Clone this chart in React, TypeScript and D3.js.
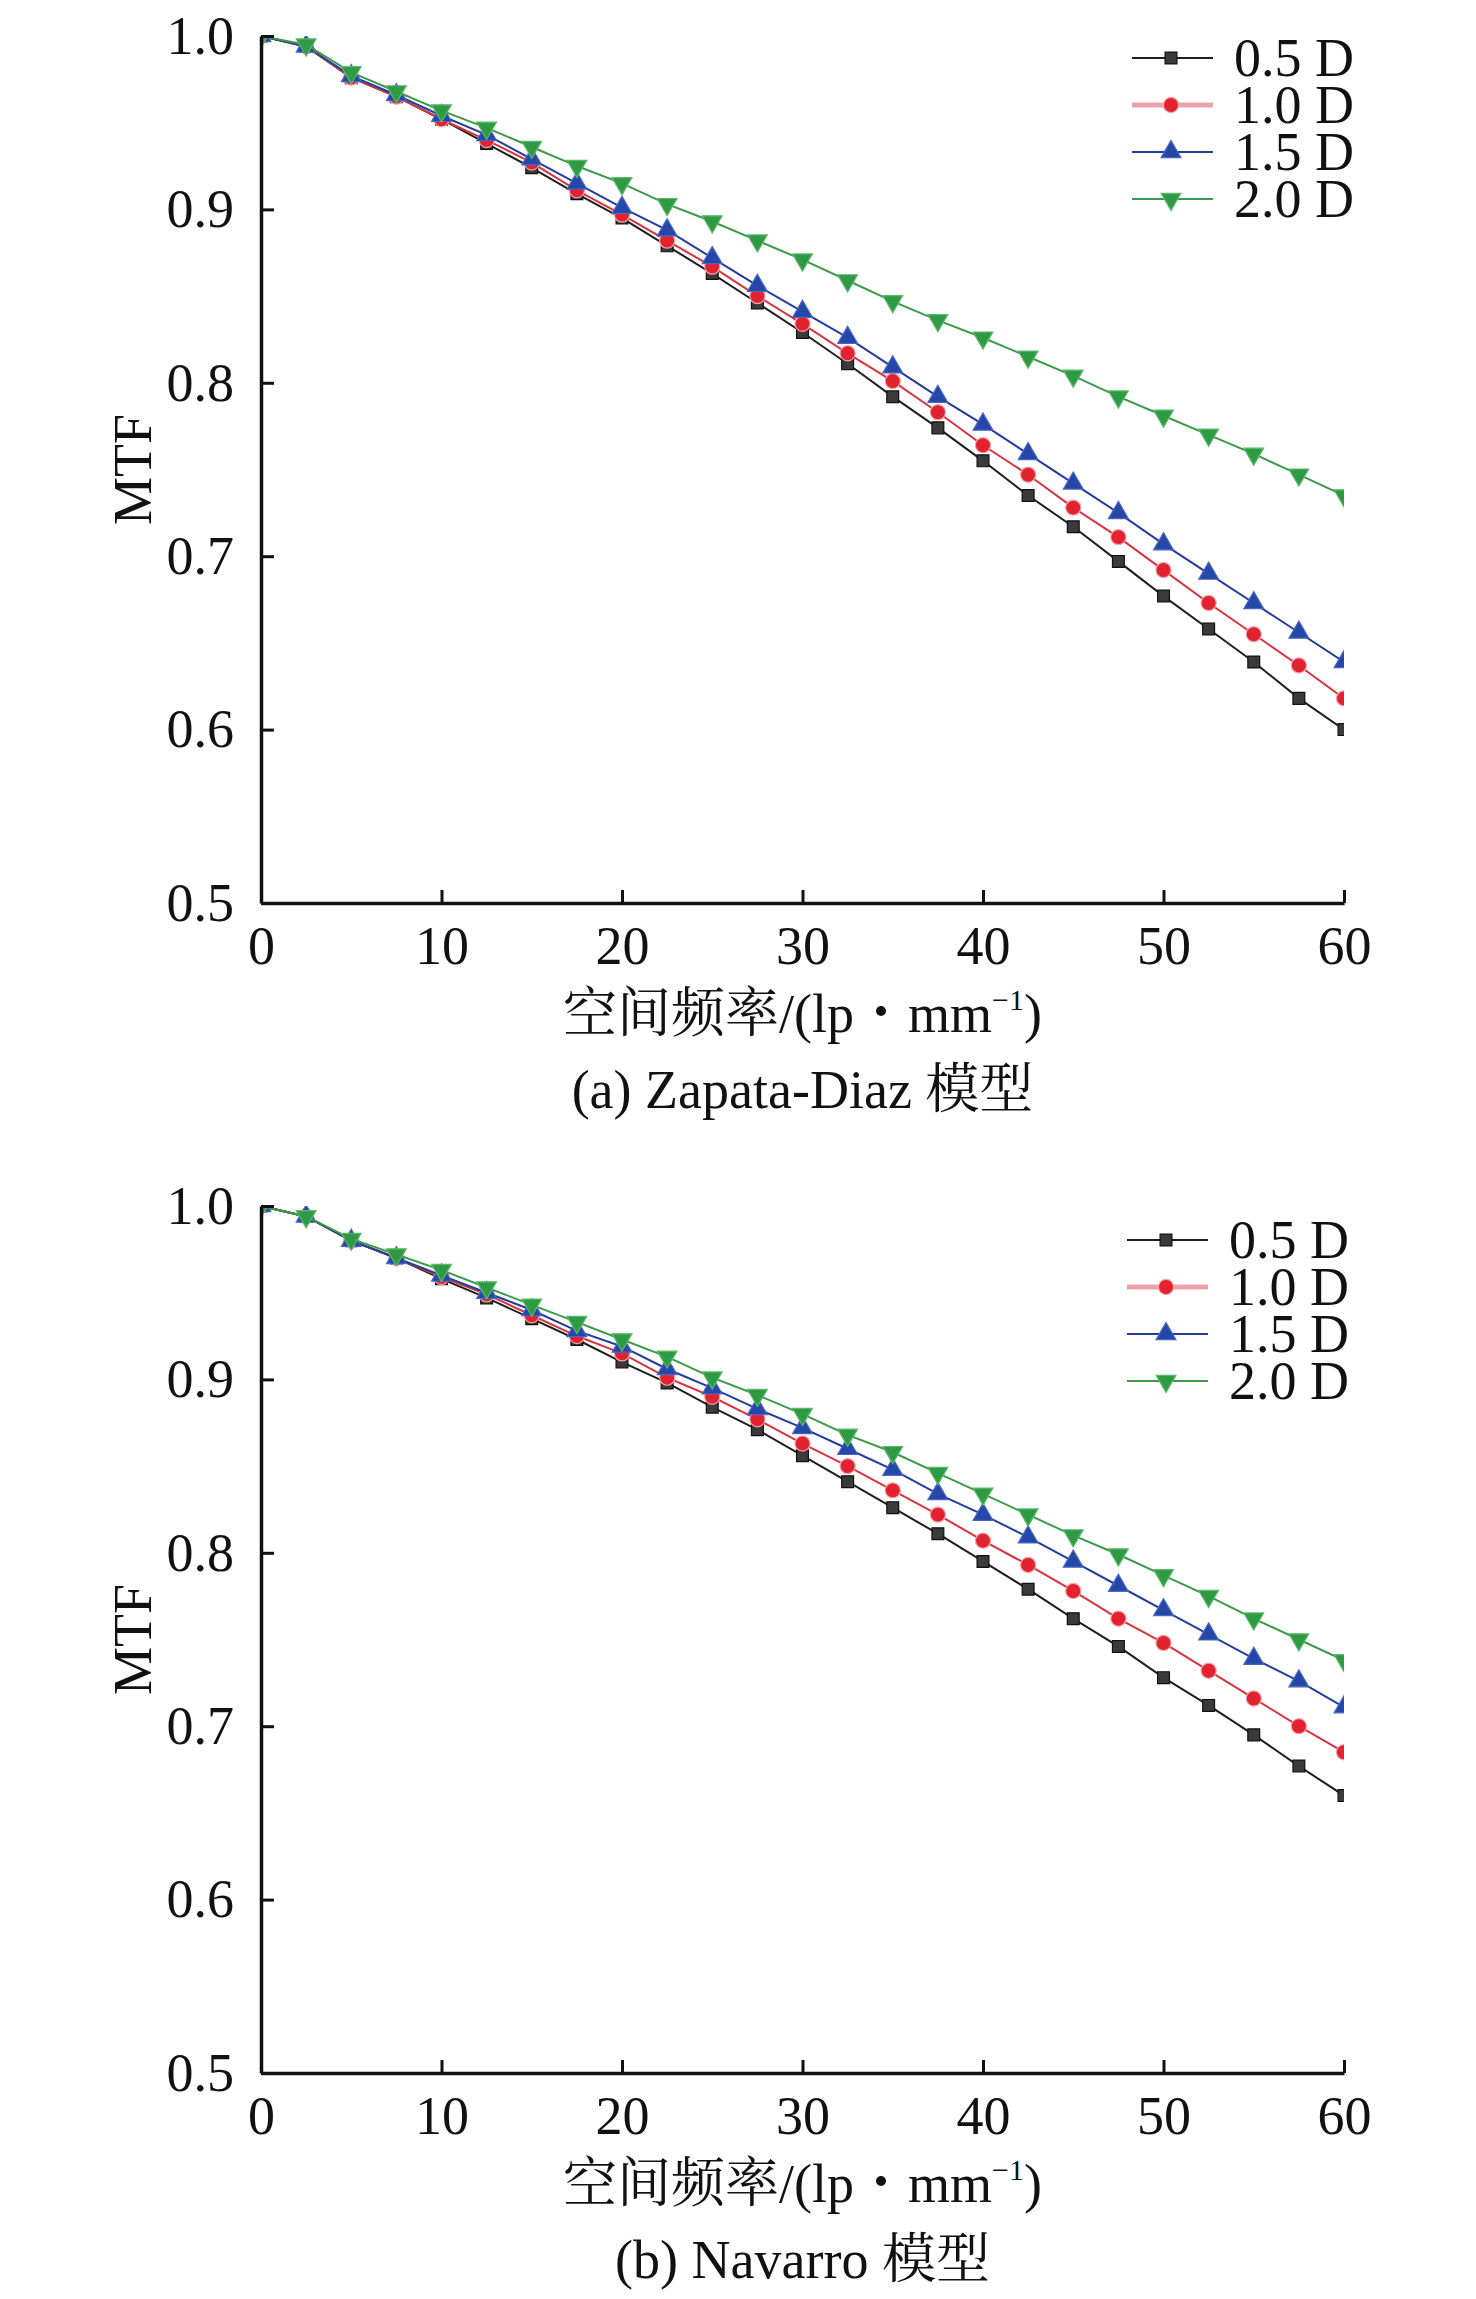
import { useRef, useEffect } from "react";
import * as d3 from "d3";

// spatial frequency (lp/mm) sample points
const FREQ = [
  0, 2.5, 5, 7.5, 10, 12.5, 15, 17.5, 20, 22.5, 25, 27.5, 30, 32.5, 35, 37.5,
  40, 42.5, 45, 47.5, 50, 52.5, 55, 57.5, 60,
];
const SERIES_NAMES = ["0.5 D", "1.0 D", "1.5 D", "2.0 D"];
const X_TICKS = [0, 10, 20, 30, 40, 50, 60];
const Y_TICKS = [0.5, 0.6, 0.7, 0.8, 0.9, 1.0];

// (a) Zapata-Diaz
const ZD_05 = [
  1.0, 0.994, 0.976, 0.965, 0.952, 0.938, 0.924, 0.909, 0.895, 0.879, 0.863,
  0.846, 0.829, 0.811, 0.792, 0.774, 0.755, 0.735, 0.717, 0.697, 0.677, 0.658,
  0.639, 0.618, 0.6,
];
const ZD_10 = [
  1.0, 0.994, 0.976, 0.965, 0.952, 0.94, 0.927, 0.911, 0.897, 0.882, 0.867,
  0.85, 0.834, 0.817, 0.801, 0.783, 0.764, 0.747, 0.728, 0.711, 0.692, 0.673,
  0.655, 0.637, 0.618,
];
const ZD_15 = [
  1.0, 0.994, 0.977, 0.966, 0.954, 0.943, 0.929, 0.915, 0.901, 0.888, 0.872,
  0.856, 0.841, 0.826, 0.809, 0.792, 0.776, 0.759, 0.742, 0.725, 0.707, 0.69,
  0.673, 0.656, 0.639,
];
const ZD_20 = [
  1.0, 0.995, 0.979, 0.968, 0.957, 0.947, 0.936, 0.925, 0.915, 0.903, 0.893,
  0.882, 0.871, 0.859, 0.847, 0.836, 0.826, 0.815, 0.804, 0.792, 0.781, 0.77,
  0.759, 0.747, 0.735,
];

// (b) Navarro
const NV_05 = [
  1.0, 0.994, 0.98, 0.97, 0.958, 0.947, 0.935, 0.923, 0.91, 0.898, 0.884,
  0.871, 0.856, 0.841, 0.826, 0.811, 0.795, 0.779, 0.762, 0.746, 0.728, 0.712,
  0.695, 0.677, 0.66,
];
const NV_10 = [
  1.0, 0.994, 0.98, 0.97, 0.959, 0.949, 0.937, 0.925, 0.915, 0.901, 0.89,
  0.877, 0.863, 0.85, 0.836, 0.822, 0.807, 0.793, 0.778, 0.762, 0.748, 0.732,
  0.716, 0.7, 0.685,
];
const NV_15 = [
  1.0, 0.994, 0.98, 0.97, 0.96, 0.95, 0.94, 0.928, 0.919, 0.906, 0.895,
  0.883, 0.872, 0.86, 0.848, 0.834, 0.822, 0.809, 0.795, 0.781, 0.767, 0.753,
  0.739, 0.726, 0.711,
];
const NV_20 = [
  1.0, 0.994, 0.981, 0.972, 0.963, 0.953, 0.943, 0.933, 0.923, 0.913, 0.901,
  0.891, 0.88, 0.868, 0.858, 0.846, 0.834, 0.822, 0.81, 0.799, 0.787, 0.775,
  0.762, 0.75, 0.738,
];

const FONT =
  "'Liberation Serif', 'Times New Roman', 'Noto Serif CJK SC', 'Noto Sans CJK SC', serif";

const STYLES = [
  { line: "#1e1e1e", fill: "#3a3a3a", stroke: "#111", symbol: d3.symbolSquare, size: 140, rotate: 0, legendLine: "#1e1e1e", legendWidth: 2 },
  { line: "#d8343f", fill: "#e2222e", stroke: "#f0a4ab", symbol: d3.symbolCircle, size: 180, rotate: 0, legendLine: "#eba3aa", legendWidth: 5 },
  { line: "#243c9c", fill: "#2447a8", stroke: "#4a66c0", symbol: d3.symbolTriangle, size: 170, rotate: 0, legendLine: "#243c9c", legendWidth: 2 },
  { line: "#3b9a48", fill: "#2f9a44", stroke: "#5cb86a", symbol: d3.symbolTriangle, size: 170, rotate: 180, legendLine: "#3b9a48", legendWidth: 2 },
];

function MtfPanel({
  series,
  caption,
  id,
  legendDx,
  legendDy,
}: {
  series: number[][];
  caption: string;
  id: string;
  legendDx: number;
  legendDy: number;
}) {
  const svgRef = useRef<SVGSVGElement>(null);

  useEffect(() => {
    if (!svgRef.current) return;
    const margin = { top: 36, left: 261 };
    const width = 1083;
    const height = 867;

    const svg = d3.select(svgRef.current);
    svg.selectAll("*").remove();

    const x = d3.scaleLinear().domain([0, 60]).range([0, width]);
    const y = d3.scaleLinear().domain([0.5, 1]).range([height, 0]);

    const g = svg
      .append("g")
      .attr("transform", `translate(${margin.left},${margin.top})`);

    g.append("clipPath")
      .attr("id", `clip-${id}`)
      .append("rect")
      .attr("width", width)
      .attr("height", height);

    const plot = g.append("g").attr("clip-path", `url(#clip-${id})`);

    const line = d3
      .line<number>()
      .x((_, i) => x(FREQ[i]))
      .y((d) => y(d));

    series.forEach((vals, si) => {
      const s = STYLES[si];
      plot
        .append("path")
        .datum(vals)
        .attr("d", line)
        .attr("fill", "none")
        .attr("stroke", s.line)
        .attr("stroke-width", 2);
      plot
        .selectAll(`.m${si}`)
        .data(vals)
        .enter()
        .append("path")
        .attr("d", d3.symbol().type(s.symbol).size(s.size)())
        .attr(
          "transform",
          (d, i) => `translate(${x(FREQ[i])},${y(d)}) rotate(${s.rotate})`,
        )
        .attr("fill", s.fill)
        .attr("stroke", s.stroke)
        .attr("stroke-width", 1.2);
    });

    // axes
    const xAxis = g
      .append("g")
      .attr("transform", `translate(0,${height})`)
      .call(
        d3
          .axisBottom(x)
          .tickValues(X_TICKS)
          .tickSize(-13)
          .tickSizeOuter(0)
          .tickPadding(23)
          .tickFormat(d3.format("d")),
      );
    const yAxis = g.append("g").call(
      d3
        .axisLeft(y)
        .tickValues(Y_TICKS)
        .tickSize(-13)
        .tickSizeOuter(0)
        .tickPadding(27)
        .tickFormat(d3.format(".1f")),
    );
    [xAxis, yAxis].forEach((a) => {
      a.attr("font-family", FONT).attr("font-size", 54);
      a.select(".domain").attr("stroke", "#111").attr("stroke-width", 3.5);
      a.selectAll(".tick line").attr("stroke", "#111").attr("stroke-width", 3);
      a.selectAll(".tick text").attr("fill", "#111");
    });

    // y label
    svg
      .append("text")
      .attr("transform", `translate(151,${margin.top + height / 2}) rotate(-90)`)
      .attr("text-anchor", "middle")
      .attr("font-family", FONT)
      .attr("font-size", 54)
      .attr("fill", "#111")
      .text("MTF");

    // x label
    const xl = svg
      .append("text")
      .attr("x", margin.left + width / 2)
      .attr("y", margin.top + height + 129)
      .attr("text-anchor", "middle")
      .attr("font-family", FONT)
      .attr("font-size", 54)
      .attr("fill", "#111");
    xl.append("tspan").text("空间频率/(lp・mm");
    xl.append("tspan").attr("font-size", 30).attr("dy", -22).text("−1");
    xl.append("tspan").attr("dy", 22).text(")");

    // caption
    svg
      .append("text")
      .attr("x", margin.left + width / 2)
      .attr("y", margin.top + height + 205)
      .attr("text-anchor", "middle")
      .attr("font-family", FONT)
      .attr("font-size", 54)
      .attr("fill", "#111")
      .text(caption);

    // legend
    const legend = svg
      .append("g")
      .attr("transform", `translate(${1132 + legendDx},${margin.top + legendDy})`);
    SERIES_NAMES.forEach((name, i) => {
      const s = STYLES[i];
      const row = legend.append("g").attr("transform", `translate(0,${i * 47})`);
      row
        .append("line")
        .attr("x1", 0)
        .attr("x2", 81)
        .attr("stroke", s.legendLine)
        .attr("stroke-width", s.legendWidth);
      row
        .append("path")
        .attr("d", d3.symbol().type(s.symbol).size(s.size)())
        .attr("transform", `translate(39,0) rotate(${s.rotate})`)
        .attr("fill", s.fill)
        .attr("stroke", s.stroke)
        .attr("stroke-width", 1.2);
      row
        .append("text")
        .attr("x", 102)
        .attr("y", 18)
        .attr("font-family", FONT)
        .attr("font-size", 54)
        .attr("fill", "#111")
        .text(name);
    });
  }, [series, caption, id, legendDx, legendDy]);

  return <svg ref={svgRef} width={1476} height={1150} style={{ display: "block" }} />;
}

export default function App() {
  return (
    <div
      style={{
        position: "absolute",
        left: 0,
        top: 0,
        width: 1476,
        height: 2299,
        background: "#fff",
        overflow: "hidden",
      }}
    >
      <div style={{ position: "absolute", left: 0, top: 0 }}>
        <MtfPanel
          id="a"
          series={[ZD_05, ZD_10, ZD_15, ZD_20]}
          caption="(a) Zapata-Diaz 模型"
          legendDx={0}
          legendDy={22}
        />
      </div>
      <div style={{ position: "absolute", left: 0, top: 1170 }}>
        <MtfPanel
          id="b"
          series={[NV_05, NV_10, NV_15, NV_20]}
          caption="(b) Navarro 模型"
          legendDx={-5}
          legendDy={34}
        />
      </div>
    </div>
  );
}
